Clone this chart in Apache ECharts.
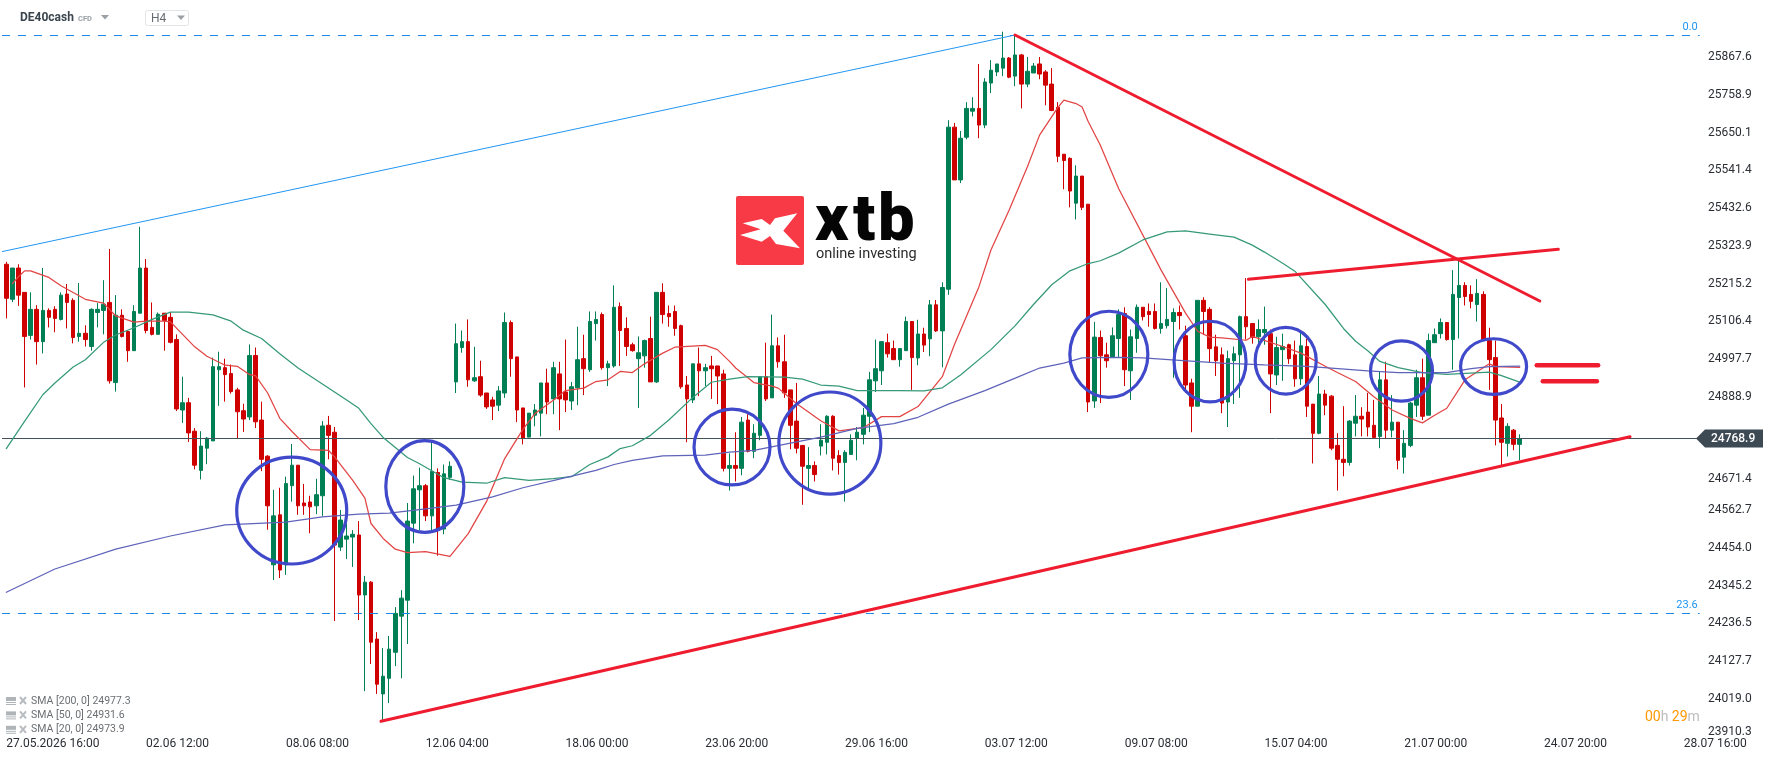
<!DOCTYPE html>
<html>
<head>
<meta charset="utf-8">
<title>DE40cash H4</title>
<style>html,body{margin:0;padding:0;background:#fff}#chart{width:1768px;height:761px}</style>
<script src="https://cdn.jsdelivr.net/npm/echarts@6/dist/echarts.min.js"></script>
</head>
<body>
<div id="chart"></div>
<script>
// Bar prices, four hours per bar
const opens = [
25271,25170,25260,25190,25066,25141,25048,25138,25141,25112,
25185,25167,25063,25072,25034,25132,25138,25161,24930,25124,
25077,25022,25130,25260,25089,25069,25130,25118,25054,24851,
24872,24790,24677,24741,24762,24967,24973,24956,24909,24849,
24831,25008,24822,24718,24405,24549,24405,24633,24692,24583,
24586,24575,24604,24807,24787,24456,24479,24485,24491,24318,
24355,24191,24033,24078,24153,24257,24303,24525,24621,24633,
24546,24671,24508,24657,24932,25031,25048,24935,24947,24900,
24880,24865,24900,25103,25004,24857,24773,24836,24842,24929,
24883,24955,24903,24877,24915,24999,24967,25100,25126,24973,
24978,25149,25086,25039,24999,25007,25057,24932,25190,25129,
25135,25094,24923,24880,24984,24964,24978,24978,24955,24683,
24691,24683,24822,24732,24778,24947,24886,25036,24990,24909,
24819,24749,24683,24691,24747,24758,24833,24720,24700,24723,
24770,24781,24833,24935,24964,25045,25028,24996,25022,25106,
25001,25070,25056,25154,25079,25199,25666,25514,25637,25712,
25720,25672,25793,25825,25836,25865,25813,25874,25790,25822,
25848,25825,25790,25723,25588,25576,25447,25525,25444,24877,
25060,25010,25004,25057,25129,24964,25057,25147,25135,25135,
25086,25094,25106,25132,25065,24929,24862,25167,25141,25033,
25010,24874,24993,25010,25120,25100,25062,25074,25071,24952,
25025,25039,25010,24941,25034,24868,24784,24897,24891,24749,
24709,24700,24813,24833,24845,24807,24775,24938,24793,24816,
24715,24749,24865,24944,24836,25045,25071,25103,25054,25175,
25210,25184,25155,25184,25051,25002,24828,24755,24793,24752];
const closes = [
25173,25260,25182,25063,25141,25048,25138,25118,25115,25182,
25161,25060,25072,25054,25141,25141,25156,24935,25124,25063,
25022,25135,25260,25080,25069,25127,25109,25046,24854,24872,
24785,24692,24747,24770,24976,24976,24953,24904,24846,24825,
25008,24817,24709,24575,24546,24390,24639,24692,24575,24575,
24572,24607,24805,24778,24462,24534,24488,24493,24318,24355,
24182,24061,24084,24162,24265,24309,24531,24624,24633,24546,
24674,24508,24667,24689,25042,25048,24938,24944,24894,24860,
24862,24906,25103,24999,24851,24770,24842,24851,24929,24874,
24973,24883,24880,24918,24996,24970,25106,25112,24973,24984,
25147,25080,25034,25022,25016,25051,24932,25190,25126,25120,
25086,24918,24883,24984,24964,24973,24970,24949,24683,24691,
24683,24816,24732,24784,24947,24883,25036,24990,24900,24807,
24741,24689,24691,24665,24764,24833,24712,24700,24729,24764,
24787,24836,24938,24970,25048,25013,24996,25028,25106,25002,
25070,25038,25154,25079,25204,25666,25514,25634,25720,25720,
25672,25796,25830,25848,25865,25810,25874,25790,25827,25842,
25819,25787,25714,25582,25570,25482,25525,25435,24874,25061,
25007,24993,25065,25126,24967,25062,25147,25120,25126,25086,
25100,25112,25132,25123,24923,24862,25167,25135,25028,24993,
24871,24999,25013,25120,25091,25060,25083,25083,24955,25031,
25034,24999,24941,25036,24862,24784,24897,24865,24741,24709,
24700,24819,24833,24825,24802,24772,24938,24793,24816,24706,
24755,24871,24944,24833,25051,25068,25103,25054,25184,25210,
25178,25164,25187,25054,24996,24822,24758,24804,24752,24768.9];
const highs = [
25278,25260,25271,25190,25190,25153,25260,25144,25150,25190,
25214,25173,25217,25095,25144,25159,25225,25315,25182,25141,
25080,25153,25379,25286,25161,25132,25130,25132,25069,24947,
24886,24799,24790,24773,25002,25019,24999,24982,24915,24869,
25040,25031,24875,24721,24621,24627,24659,24753,24692,24638,
24604,24653,24819,24834,24802,24563,24524,24505,24531,24373,
24358,24211,24165,24200,24283,24332,24583,24662,24685,24638,
24764,24683,24694,24703,25100,25080,25112,25033,24993,24900,
24889,24920,25132,25109,25004,24857,24842,24868,24929,24970,
24990,24990,25054,24932,25091,25068,25135,25135,25132,24993,
25210,25161,25118,25045,25063,25054,25120,25190,25216,25152,
25152,25097,24949,24984,25031,24984,25007,24978,24967,24726,
24787,24831,24839,24810,24947,25045,25126,25060,25068,24909,
24929,24749,24744,24703,24810,24836,24836,24735,24735,24781,
24802,24857,24961,25054,25048,25071,25051,25028,25120,25106,
25111,25088,25168,25168,25219,25686,25678,25655,25738,25752,
25848,25807,25859,25848,25941,25868,25932,25877,25868,25851,
25868,25830,25836,25738,25588,25579,25556,25525,25444,25105,
25080,25045,25089,25141,25147,25083,25155,25147,25158,25158,
25219,25202,25144,25152,25094,24941,25167,25176,25147,25068,
25031,25022,25034,25123,25231,25100,25112,25149,25083,25062,
25071,25042,25051,25074,25057,24868,24949,24909,24894,24784,
24862,24822,24894,24859,24900,24880,24961,24990,24894,24816,
24793,24874,24967,24999,25071,25086,25115,25103,25254,25286,
25219,25210,25228,25193,25088,25051,24868,24813,24796,24781];
const lows = [
25115,25162,25151,24916,25054,24982,25014,25089,25075,25109,
25086,25043,25048,25034,25022,25089,25069,24927,24904,25060,
24990,25022,25130,25072,25066,25069,25022,25043,24848,24814,
24759,24680,24651,24695,24762,24863,24875,24898,24770,24788,
24822,24799,24675,24506,24361,24367,24376,24587,24549,24549,
24496,24551,24546,24709,24243,24445,24422,24399,24246,24041,
24119,24033,23957,24007,24113,24078,24177,24467,24505,24531,
24505,24431,24493,24650,24900,25016,24918,24932,24889,24854,
24822,24848,24886,24947,24816,24752,24773,24804,24775,24839,
24839,24793,24845,24851,24865,24894,24961,25051,24967,24920,
24973,24978,25007,25019,24857,24973,24932,24929,25100,25091,
25065,24912,24758,24871,24891,24920,24883,24868,24674,24619,
24645,24663,24729,24712,24764,24877,24886,24973,24886,24738,
24726,24578,24625,24645,24720,24723,24677,24665,24587,24723,
24706,24752,24787,24903,24923,25002,24996,24976,25022,24909,
24980,25018,25006,25076,24974,25183,25514,25505,25631,25697,
25634,25663,25764,25813,25813,25807,25784,25720,25781,25822,
25804,25729,25712,25565,25487,25435,25400,25427,24845,24857,
24871,24973,25002,25002,24920,24880,25016,25109,25091,25083,
25071,25086,24944,25083,24900,24787,24862,25068,24987,24949,
24842,24802,24868,24886,25054,25042,25042,25039,24842,24923,
24935,24984,24918,24923,24831,24697,24781,24836,24735,24619,
24660,24691,24775,24775,24775,24772,24741,24770,24772,24680,
24668,24744,24831,24822,24836,25045,25057,25051,24967,25057,
25152,25144,25106,25054,24909,24749,24691,24717,24735,24706];

// Moving averages, read at the listed bar numbers
const sma20Bars = [1,2,3,4,7,9,13,16,18,21,23,26,27,29,31,33,36,38,40,41,43,45,47,50,53,54,57,59,60,62,64,66,69,73,76,79,82,85,87,90,92,95,97,99,101,103,105,108,110,115,117,119,120,123,126,127,130,134,137,141,144,147,150,152,154,156,160,162,165,168,170,173,174,176,177,178,180,183,190,194,196,198,200,204,205,210,213,217,219,222,225,228,231,233,235,237,240,244,245,249];
const sma20Values = [25215,25235,25252,25252,25233,25209,25170,25159,25122,25104,25107,25107,25105,25069,25033,25006,24980,24977,24953,24950,24900,24827,24789,24737,24735,24716,24648,24597,24524,24481,24450,24440,24443,24429,24495,24587,24711,24795,24841,24879,24907,24914,24933,24938,24962,24959,24984,25015,25032,25037,25025,24991,24972,24930,24920,24914,24870,24820,24791,24800,24832,24832,24861,24904,24947,25040,25205,25312,25427,25552,25643,25722,25744,25734,25724,25682,25614,25489,25254,25131,25078,25061,25059,25052,25063,25034,25015,24977,24959,24933,24889,24851,24827,24814,24836,24856,24938,24984,24976,24973.9];
const sma50Bars = [0,3,6,8,11,13,16,18,21,24,27,30,34,37,39,42,45,48,56,58,60,62,66,68,72,75,79,82,86,90,93,96,99,101,103,106,109,113,116,119,122,128,131,134,137,140,147,151,154,157,162,166,169,172,175,178,180,183,187,191,194,198,202,205,207,210,212,217,220,222,224,226,229,233,237,244,246,249];
const sma50Values = [24740,24818,24895,24929,24975,24996,25046,25067,25088,25112,25133,25133,25125,25107,25081,25057,25013,24972,24880,24856,24812,24772,24714,24696,24656,24643,24640,24656,24648,24653,24659,24694,24716,24740,24748,24778,24822,24888,24931,24940,24947,24946,24940,24923,24920,24907,24907,24906,24915,24952,25025,25094,25155,25212,25252,25273,25281,25303,25341,25364,25367,25358,25349,25326,25306,25274,25251,25155,25086,25049,25022,24991,24973,24959,24954,24960,24950,24931.6];
const sma200Bars = [0,8,18,27,36,46,52,58,63,69,74,80,85,91,97,100,103,108,115,119,123,134,140,146,150,155,161,166,170,174,177,183,187,193,200,207,214,218,224,229,237,241,244,249];
const sma200Values = [24326,24393,24450,24488,24520,24528,24543,24551,24554,24566,24577,24601,24627,24652,24677,24694,24706,24719,24721,24730,24735,24773,24798,24812,24830,24868,24907,24943,24972,24986,25001,25003,25001,24994,24986,24981,24977,24972,24964,24959,24959,24970,24976,24977.3];

// Axis labels
const timeLabels = ['27.05.2026 16:00','02.06 12:00','08.06 08:00','12.06 04:00','18.06 00:00','23.06 20:00','29.06 16:00','03.07 12:00','09.07 08:00','15.07 04:00','21.07 00:00','24.07 20:00','28.07 16:00'];
const priceTicks = [25867.6,25758.9,25650.1,25541.4,25432.6,25323.9,25215.2,25106.4,24997.7,24888.9,24671.4,24562.7,24454.0,24345.2,24236.5,24127.7,24019.0,23910.3];

// Drawn analysis: horizontal levels, trend lines and highlighted zones
const lastPrice = 24768.9;
const fibLevels = [25930.0, 24264.7];
const fibNames = ['0.0', '23.6'];
const fibSwing = [[-0.76, 25307.1], [165.96, 25931.4]];
const trendDown = [[165.96, 25931.4], [252.3, 25165.0]];
const trendUpper = [[204.35, 25227.6], [255.35, 25314.0]];
const trendLower = [[61.65, 23954.1], [267.15, 24774.1]];
const equalUpper = [[251.8, 24979.8], [261.9, 24979.8]];
const equalLower = [[252.8, 24933.7], [261.7, 24933.7]];
const zoneBars = [46.96, 68.86, 119.4, 135.5, 181.4, 198.05, 210.5, 229.55, 244.7];
const zonePrices = [24561.4, 24630.6, 24744.4, 24755.9, 25011.5, 24990.7, 24993.0, 24963.4, 24976.3];
const zoneBarRadii = [9.05, 6.42, 6.25, 8.39, 6.42, 5.92, 5.02, 5.1, 5.43];
const zonePriceRadii = [154, 132, 109, 147, 124, 116, 96, 87, 80];

const BAR_SLOTS = 279;
const LABEL_STEP = 23;
const SANS = 'Roboto, sans-serif';
const TICK_COLOR = '#2a2e34';

const categories = Array.from({length: BAR_SLOTS}, (_, i) => (i % LABEL_STEP === 0 ? timeLabels[i / LABEL_STEP] : '') || '');
const candles = opens.map((o, i) => [o, closes[i], lows[i], highs[i]]);
const pairs = (xs, ys) => xs.map((x, i) => [x, ys[i]]);

function overlayLine(name, data, color, width, extra) {
  return Object.assign({
    name, type: 'line', xAxisIndex: 1, yAxisIndex: 0, data, symbol: 'none', silent: true,
    clip: false, animation: false, z: 5,
    lineStyle: {color, width, cap: 'round'}
  }, extra || {});
}
const flatLevel = p => [[-0.72, p], [278.6, p]];

const series = [
  {
    name: 'DE40cash', type: 'candlestick', data: candles, barWidth: 4, z: 2,
    itemStyle: {color: '#007f55', color0: '#cf0000', borderColor: '#007f55', borderColor0: '#cf0000', borderWidth: 1}
  },
  overlayLine('SMA 20', pairs(sma20Bars, sma20Values), '#e24444', 1.25),
  overlayLine('SMA 50', pairs(sma50Bars, sma50Values), '#35997a', 1.25),
  overlayLine('SMA 200', pairs(sma200Bars, sma200Values), '#5f63ba', 1.25),
  overlayLine('Price', flatLevel(lastPrice), '#43525c', 1, {z: 4}),
  overlayLine('Swing', fibSwing, '#2196f3', 1),
  overlayLine('Trend down', trendDown, '#ee1c2e', 3),
  overlayLine('Trend upper', trendUpper, '#ee1c2e', 3),
  overlayLine('Trend lower', trendLower, '#ee1c2e', 3),
  overlayLine('Equal upper', equalUpper, '#ee1c2e', 4.5),
  overlayLine('Equal lower', equalLower, '#ee1c2e', 4.5)
];
fibLevels.forEach((p, i) => {
  series.push(overlayLine('Fib ' + fibNames[i], flatLevel(p), '#1e88e5', 1, {
    lineStyle: {color: '#1e88e5', width: 1, type: [8, 8]}, z: 4
  }));
});

// Highlighted zones: ellipses sized in bars and price
series.push({
  type: 'custom', xAxisIndex: 1, yAxisIndex: 0, silent: true, clip: false, z: 6,
  data: zoneBars.map((b, i) => [b, zonePrices[i], zoneBarRadii[i], zonePriceRadii[i]]),
  encode: {x: 0, y: 1},
  renderItem(params, api) {
    const c = api.coord([api.value(0), api.value(1)]);
    const e = api.coord([api.value(0) + api.value(2), api.value(1) + api.value(3)]);
    return {
      type: 'ellipse',
      shape: {cx: c[0], cy: c[1], rx: Math.abs(e[0] - c[0]), ry: Math.abs(e[1] - c[1])},
      style: {fill: 'transparent', stroke: '#3f49c9', lineWidth: 3.2}
    };
  }
});

// Fibonacci level captions
series.push({
  type: 'custom', xAxisIndex: 1, yAxisIndex: 0, silent: true, clip: false, z: 6,
  data: fibLevels.map(p => [278.3, p]),
  encode: {x: 0, y: 1},
  renderItem(params, api) {
    const c = api.coord([api.value(0), api.value(1)]);
    return {
      type: 'text',
      style: {text: fibNames[params.dataIndex], x: c[0], y: c[1] - 8.5, fill: '#2196f3', font: '11px ' + SANS, textAlign: 'right', textVerticalAlign: 'middle'}
    };
  }
});

// Last price tag on the price scale
series.push({
  type: 'custom', xAxisIndex: 1, yAxisIndex: 0, silent: true, clip: false, z: 7,
  data: [[278.5, lastPrice]],
  encode: {x: 0, y: 1},
  renderItem(params, api) {
    const c = api.coord([api.value(0), api.value(1)]);
    const x = c[0] - 3, y = c[1];
    return {
      type: 'group',
      children: [
        {type: 'polygon', shape: {points: [[x, y], [x + 9, y - 9], [x + 67, y - 9], [x + 67, y + 9], [x + 9, y + 9]]}, style: {fill: '#3d4a54'}},
        {type: 'text', style: {text: lastPrice.toFixed(1), x: x + 15, y: y + 0.5, fill: '#fff', font: '500 12px ' + SANS, textAlign: 'left', textVerticalAlign: 'middle'}}
      ]
    };
  }
});

const LEGEND_ROWS = ['SMA [200, 0] 24977.3', 'SMA [50, 0] 24931.6', 'SMA [20, 0] 24973.9'];
const legendGraphics = [];
LEGEND_ROWS.forEach((text, i) => {
  const y = 701 + i * 14.4;
  legendGraphics.push(
    {type: 'rect', shape: {x: 6, y: y - 4, width: 10, height: 4}, style: {fill: '#aeb4b8'}},
    {type: 'rect', shape: {x: 6, y: y + 1, width: 10, height: 1}, style: {fill: '#aeb4b8'}},
    {type: 'rect', shape: {x: 6, y: y + 3, width: 10, height: 1}, style: {fill: '#aeb4b8'}},
    {type: 'line', shape: {x1: 20, y1: y - 4, x2: 26, y2: y + 3}, style: {stroke: '#b8bcc0', lineWidth: 2}},
    {type: 'line', shape: {x1: 26, y1: y - 4, x2: 20, y2: y + 3}, style: {stroke: '#b8bcc0', lineWidth: 2}},
    {type: 'text', x: 31, y: y, style: {text, fill: '#6b6f73', font: '10.5px ' + SANS, textVerticalAlign: 'middle'}}
  );
});

const LOGO_FONT = '900 65px ' + SANS;
const tickStyle = {color: TICK_COLOR, fontFamily: SANS, fontSize: 12};

const chart = echarts.init(document.getElementById('chart'), null, {renderer: 'canvas'});
chart.setOption({
  animation: false,
  backgroundColor: '#ffffff',
  grid: {left: 3.26, top: 0, width: 1695.76, height: 737, containLabel: false},
  xAxis: [
    {
      type: 'category', data: categories, boundaryGap: true,
      axisLine: {show: false}, axisTick: {show: false}, splitLine: {show: false},
      axisLabel: {
        interval: i => i % LABEL_STEP === 0, align: 'left', margin: 1, hideOverlap: false,
        color: TICK_COLOR, fontFamily: SANS, fontSize: 12
      }
    },
    {type: 'value', show: false, min: -0.5, max: BAR_SLOTS - 0.5}
  ],
  yAxis: {
    type: 'value', position: 'right', min: 23908.9, max: 26032.3, scale: true,
    axisLine: {show: false}, axisTick: {show: false}, splitLine: {show: false},
    axisLabel: {
      customValues: priceTicks, margin: 9, align: 'left',
      color: TICK_COLOR, fontFamily: SANS, fontSize: 12,
      // The lowest label stays inside the scale; the one under the price tag sits clear of it
      formatter: v => {
        const s = v.toFixed(1);
        if (v === 23910.3) return '{up|' + s + '}';
        if (v === 24671.4) return '{down|' + s + '}';
        return s;
      },
      rich: {
        up: Object.assign({padding: [0, 0, 9, 0]}, tickStyle),
        down: Object.assign({padding: [14, 0, 0, 0]}, tickStyle)
      }
    }
  },
  series,
  graphic: {
    elements: [
      // Instrument header
      {type: 'text', x: 20, y: 18, style: {text: 'DE40cash', fill: '#3a454e', font: 'bold 12px ' + SANS, textVerticalAlign: 'middle'}},
      {type: 'text', x: 78, y: 19, style: {text: 'CFD', fill: '#9aa0a5', font: 'bold 7.5px ' + SANS, textVerticalAlign: 'middle'}},
      {type: 'polygon', shape: {points: [[101, 15], [109, 15], [105, 19.5]]}, style: {fill: '#9aa0a5'}},
      {type: 'rect', shape: {x: 145.5, y: 10.5, width: 43, height: 15, r: 2}, style: {fill: '#fff', stroke: '#e2e4e6', lineWidth: 1}},
      {type: 'text', x: 151, y: 19, style: {text: 'H4', fill: '#666c72', font: '12px ' + SANS, textVerticalAlign: 'middle'}},
      {type: 'polygon', shape: {points: [[177, 15.5], [185, 15.5], [181, 20]]}, style: {fill: '#9aa0a5'}},
      // Broker logo
      {type: 'rect', shape: {x: 736, y: 196, width: 68, height: 69, r: 2}, style: {fill: '#f83a46'}},
      {type: 'polygon', shape: {points: [[797.3, 213.3], [783.3, 230.7], [800, 248.3], [776, 244], [770, 236], [761.7, 241.7], [740, 235], [760.7, 229.3], [742.7, 223.3], [761.7, 219], [770, 225], [775, 218.3]]}, style: {fill: '#fff'}},
      {type: 'text', x: 815, y: 224, style: {text: 'x', fill: '#050505', font: LOGO_FONT, textVerticalAlign: 'middle'}},
      {type: 'text', x: 853, y: 224, style: {text: 't', fill: '#050505', font: LOGO_FONT, textVerticalAlign: 'middle'}},
      {type: 'text', x: 878, y: 224, style: {text: 'b', fill: '#050505', font: LOGO_FONT, textVerticalAlign: 'middle'}},
      {type: 'text', x: 816, y: 254, style: {text: 'online investing', fill: '#2b2b2b', font: '14.5px ' + SANS, textVerticalAlign: 'middle'}},
      // Bar countdown
      {type: 'text', x: 1645, y: 717, style: {
        text: '{o|00}{g|h} {o|29}{g|m}', textVerticalAlign: 'middle',
        rich: {o: {fill: '#ff9800', font: '14px ' + SANS}, g: {fill: '#bdbdbd', font: '14px ' + SANS}}
      }},
      ...legendGraphics
    ]
  }
});
</script>
</body>
</html>
